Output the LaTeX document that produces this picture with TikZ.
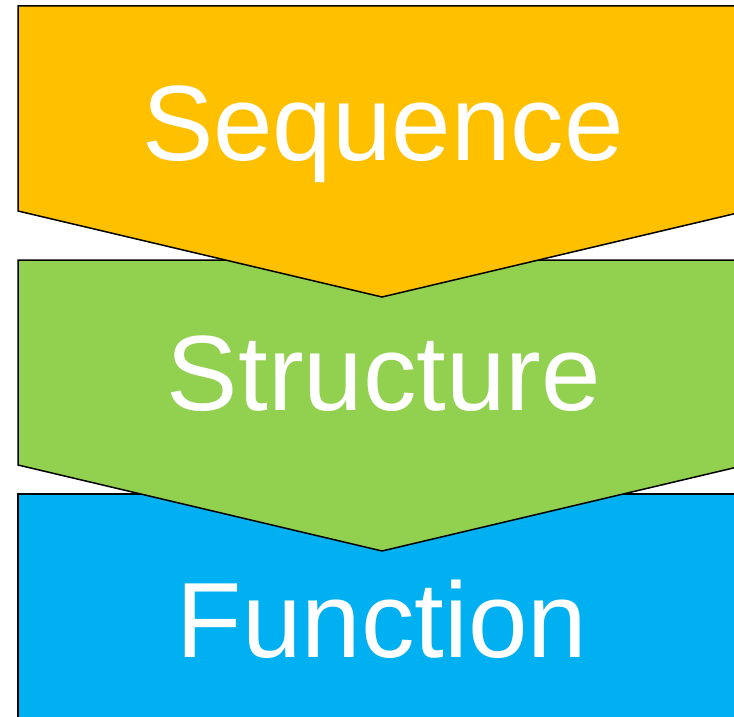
\documentclass[tikz,border=0pt]{standalone}
\usepackage{fontspec}
\setmainfont{Liberation Sans}
\definecolor{seqorange}{HTML}{FFC000}
\definecolor{strgreen}{HTML}{92D050}
\definecolor{funblue}{HTML}{00B0F0}
\begin{document}
\begin{tikzpicture}[x=1pt,y=-1pt,
  stage/.style={draw=black,line width=1.5pt,line join=miter},
  label/.style={text=white,anchor=base,inner sep=0pt,
    font=\fontsize{107}{120}\selectfont}]
  \useasboundingbox (0,0) rectangle (734,717);
  \clip (0,0) rectangle (734,717);
  % bottom block
  \draw[stage,fill=funblue] (18,494) -- (746,494) -- (746,740) -- (18,740) -- cycle;
  % middle chevron
  \draw[stage,fill=strgreen] (18,260) -- (746,260) -- (746,465) -- (382,551) -- (18,465) -- cycle;
  % top chevron
  \draw[stage,fill=seqorange] (18,6) -- (746,6) -- (746,211) -- (382,297) -- (18,211) -- cycle;
  \node[label] (seq) at (383,160) {Sequence};
  \node[label] (str) at (384,410) {Structure};
  \node[label] (fun) at (382,657) {Function};
\end{tikzpicture}
\end{document}
